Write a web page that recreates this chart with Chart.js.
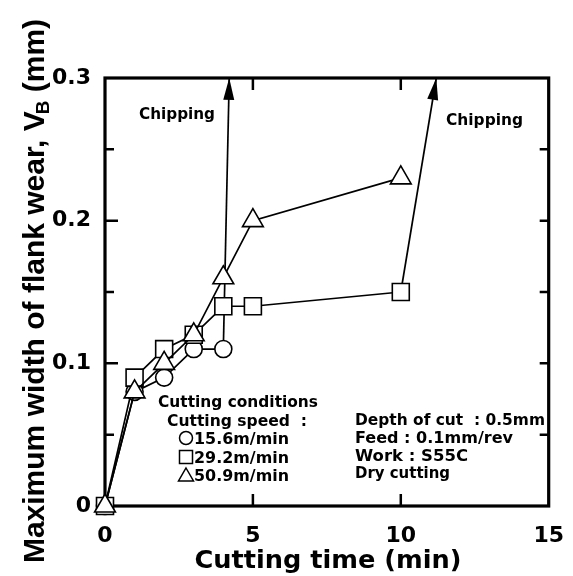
<!DOCTYPE html>
<html>
<head>
<meta charset="utf-8">
<script src="https://cdn.jsdelivr.net/npm/chart.js@4/dist/chart.umd.min.js"></script>
<style>
  html, body { margin: 0; padding: 0; background: #fff; }
  #wrap { width: 573px; height: 576px; }
</style>
</head>
<body>
<div id="wrap"><canvas id="wear-chart" width="573" height="576"></canvas></div>
<script>
// Data (time in min, flank wear VB in mm)
const timeCircle = [0, 1, 2, 3, 4];
const wearCircle = [0, 0.08, 0.09, 0.11, 0.11];
const timeSquare = [0, 1, 2, 3, 4, 5, 10];
const wearSquare = [0, 0.09, 0.11, 0.12, 0.14, 0.14, 0.15];
const timeTriangle = [0, 1, 2, 3, 4, 5, 10];
const wearTriangle = [0, 0.08, 0.10, 0.12, 0.16, 0.20, 0.23];

// chipping jumps (arrows running off the top of the plot)
const chipTimeCircle = [4, 4.2];
const chipWearCircle = [0.11, 0.3];
const chipTimeSquare = [10, 11.2];
const chipWearSquare = [0.15, 0.3];

// axes
const xTickValues = [0, 5, 10, 15];
const xTickLabels = ['0', '5', '10', '15'];
const yTickValues = [0, 0.1, 0.2, 0.3];
const yTickLabels = ['0', '0.1', '0.2', '0.3'];
const yMinorValues = [0.05, 0.15, 0.25];

const speedLabels = ['15.6m/min', '29.2m/min', '50.9m/min'];

const BOLD = '"DejaVu Sans", sans-serif';

const toPoints = (xs, ys) => xs.map((x, i) => ({ x, y: ys[i] }));

// draw text squeezed/stretched to a given width
function fitText(ctx, text, x, y, size, width, align) {
  ctx.save();
  ctx.font = `bold ${size}px ${BOLD}`;
  const w = ctx.measureText(text).width;
  const s = width / w;
  ctx.translate(x, y);
  ctx.scale(s, 1);
  ctx.textAlign = align || 'left';
  ctx.textBaseline = 'alphabetic';
  ctx.fillText(text, 0, 0);
  ctx.restore();
}

// small open symbol for the in-plot key
function keySymbol(ctx, shape, cx, cy) {
  ctx.save();
  ctx.strokeStyle = '#000';
  ctx.lineWidth = 1.5;
  ctx.beginPath();
  if (shape === 'circle') {
    ctx.arc(cx, cy, 6.5, 0, Math.PI * 2);
  } else if (shape === 'rect') {
    ctx.rect(cx - 6.5, cy - 6.5, 13, 13);
  } else {
    ctx.moveTo(cx, cy - 7);
    ctx.lineTo(cx + 7.5, cy + 6);
    ctx.lineTo(cx - 7.5, cy + 6);
    ctx.closePath();
  }
  ctx.stroke();
  ctx.restore();
}

const framePlugin = {
  id: 'frame',
  beforeDatasetsDraw(chart) {
    const { ctx, chartArea: a, scales: { x, y } } = chart;
    ctx.save();
    ctx.strokeStyle = '#000';
    ctx.lineWidth = 3.2;
    ctx.strokeRect(a.left, a.top, a.right - a.left, a.bottom - a.top);

    ctx.lineWidth = 2.5;
    ctx.beginPath();
    // left + right major ticks
    yTickValues.slice(1, -1).forEach(v => {
      const py = y.getPixelForValue(v);
      ctx.moveTo(a.left, py); ctx.lineTo(a.left + 13, py);
      ctx.moveTo(a.right, py); ctx.lineTo(a.right - 9, py);
    });
    // minor ticks
    yMinorValues.forEach(v => {
      const py = y.getPixelForValue(v);
      ctx.moveTo(a.left, py); ctx.lineTo(a.left + 9, py);
      ctx.moveTo(a.right, py); ctx.lineTo(a.right - 9, py);
    });
    // top + bottom
    xTickValues.slice(1, -1).forEach(v => {
      const px = x.getPixelForValue(v);
      ctx.moveTo(px, a.bottom); ctx.lineTo(px, a.bottom - 12);
      ctx.moveTo(px, a.top); ctx.lineTo(px, a.top + 12);
    });
    ctx.stroke();
    ctx.restore();
  },
  afterDatasetsDraw(chart) {
    const { ctx } = chart;
    // arrow heads on the chipping lines
    chart.data.datasets.forEach((ds, i) => {
      if (!ds.arrow) return;
      const pts = chart.getDatasetMeta(i).data;
      const p0 = pts[pts.length - 2], p1 = pts[pts.length - 1];
      const ang = Math.atan2(p1.y - p0.y, p1.x - p0.x);
      const len = 22, half = 5.5;
      ctx.save();
      ctx.translate(p1.x, p1.y);
      ctx.rotate(ang);
      ctx.fillStyle = '#000';
      ctx.beginPath();
      ctx.moveTo(0, 0);
      ctx.lineTo(-len, -half);
      ctx.lineTo(-len, half);
      ctx.closePath();
      ctx.fill();
      ctx.restore();
    });
  },
  afterDraw(chart) {
    const { ctx } = chart;
    ctx.save();
    ctx.fillStyle = '#000';

    fitText(ctx, 'Chipping', 139, 119, 15, 76);
    fitText(ctx, 'Chipping', 446, 125, 15, 77);

    fitText(ctx, 'Cutting conditions', 158, 407, 16, 160);
    fitText(ctx, 'Cutting speed  :', 167, 426, 16, 140);
    keySymbol(ctx, 'circle', 186, 438);
    keySymbol(ctx, 'rect', 186, 457);
    keySymbol(ctx, 'triangle', 186, 475);
    fitText(ctx, speedLabels[0], 194, 444, 16, 95);
    fitText(ctx, speedLabels[1], 194, 463, 16, 95);
    fitText(ctx, speedLabels[2], 194, 481, 16, 95);

    fitText(ctx, 'Depth of cut  : 0.5mm', 355, 425, 16, 190);
    fitText(ctx, 'Feed : 0.1mm/rev', 355, 443, 16, 158);
    fitText(ctx, 'Work : S55C', 355, 461, 16, 113);
    fitText(ctx, 'Dry cutting', 355, 478, 16, 95);

    // x axis title
    fitText(ctx, 'Cutting time (min)', 328, 568, 25, 267, 'center');

    // y axis title with subscript B
    ctx.translate(44, 291);
    ctx.rotate(-Math.PI / 2);
    const main = 'Maximum width of flank wear, V';
    const tail = ' (mm)';
    ctx.font = 'bold 30px "Liberation Sans", Arial, sans-serif';
    const wMain = ctx.measureText(main).width;
    const wTail = ctx.measureText(tail).width;
    ctx.font = 'bold 19px "Liberation Sans", Arial, sans-serif';
    const wSub = ctx.measureText('B').width;
    const total = wMain + wSub - 3 + wTail;
    let cx = -total / 2;
    ctx.textAlign = 'left';
    ctx.textBaseline = 'alphabetic';
    ctx.font = 'bold 30px "Liberation Sans", Arial, sans-serif';
    ctx.fillText(main, cx, 0);
    cx += wMain - 3;
    ctx.font = 'bold 19px "Liberation Sans", Arial, sans-serif';
    ctx.fillText('B', cx, 5);
    cx += wSub;
    ctx.font = 'bold 30px "Liberation Sans", Arial, sans-serif';
    ctx.fillText(tail, cx, 0);
    ctx.restore();
  }
};

const markerStyle = {
  borderColor: '#000',
  backgroundColor: '#fff',
  pointBackgroundColor: '#fff',
  pointBorderColor: '#000',
  pointBorderWidth: 1.6,
  borderWidth: 1.7,
  tension: 0,
  clip: false
};

new Chart(document.getElementById('wear-chart'), {
  type: 'scatter',
  data: {
    datasets: [
      {
        label: speedLabels[0],
        data: toPoints(timeCircle, wearCircle),
        showLine: true,
        pointStyle: 'circle',
        pointRadius: 8.5,
        order: 2,
        ...markerStyle
      },
      {
        label: speedLabels[1],
        data: toPoints(timeSquare, wearSquare),
        showLine: true,
        pointStyle: 'rect',
        pointRadius: 12,
        order: 1,
        ...markerStyle
      },
      {
        label: speedLabels[2],
        data: toPoints(timeTriangle, wearTriangle),
        showLine: true,
        pointStyle: 'triangle',
        pointRadius: 12,
        order: 0,
        ...markerStyle
      },
      {
        label: 'chipping 15.6',
        data: toPoints(chipTimeCircle, chipWearCircle),
        showLine: true,
        pointRadius: 0,
        borderColor: '#000',
        borderWidth: 1.7,
        clip: false,
        arrow: true,
        order: 3
      },
      {
        label: 'chipping 29.2',
        data: toPoints(chipTimeSquare, chipWearSquare),
        showLine: true,
        pointRadius: 0,
        borderColor: '#000',
        borderWidth: 1.7,
        clip: false,
        arrow: true,
        order: 3
      }
    ]
  },
  options: {
    responsive: false,
    animation: false,
    layout: { padding: { left: 0, top: 78, right: 16, bottom: 0 } },
    plugins: {
      legend: { display: false },
      tooltip: { enabled: false }
    },
    scales: {
      x: {
        type: 'linear',
        min: 0,
        max: 15,
        grid: { display: false },
        border: { display: false },
        afterFit: s => { s.height = 70; },
        afterBuildTicks: s => { s.ticks = xTickValues.map(v => ({ value: v })); },
        ticks: {
          color: '#000',
          padding: 9,
          font: { family: 'DejaVu Sans', weight: 'bold', size: 22 },
          callback: v => xTickLabels[xTickValues.indexOf(v)]
        }
      },
      y: {
        min: 0,
        max: 0.3,
        grid: { display: false },
        border: { display: false },
        afterFit: s => { s.width = 105; },
        afterBuildTicks: s => { s.ticks = yTickValues.map(v => ({ value: v })); },
        ticks: {
          color: '#000',
          padding: 6,
          font: { family: 'DejaVu Sans', weight: 'bold', size: 22 },
          callback: v => yTickLabels[yTickValues.indexOf(v)]
        }
      }
    }
  },
  plugins: [framePlugin]
});
</script>
</body>
</html>
